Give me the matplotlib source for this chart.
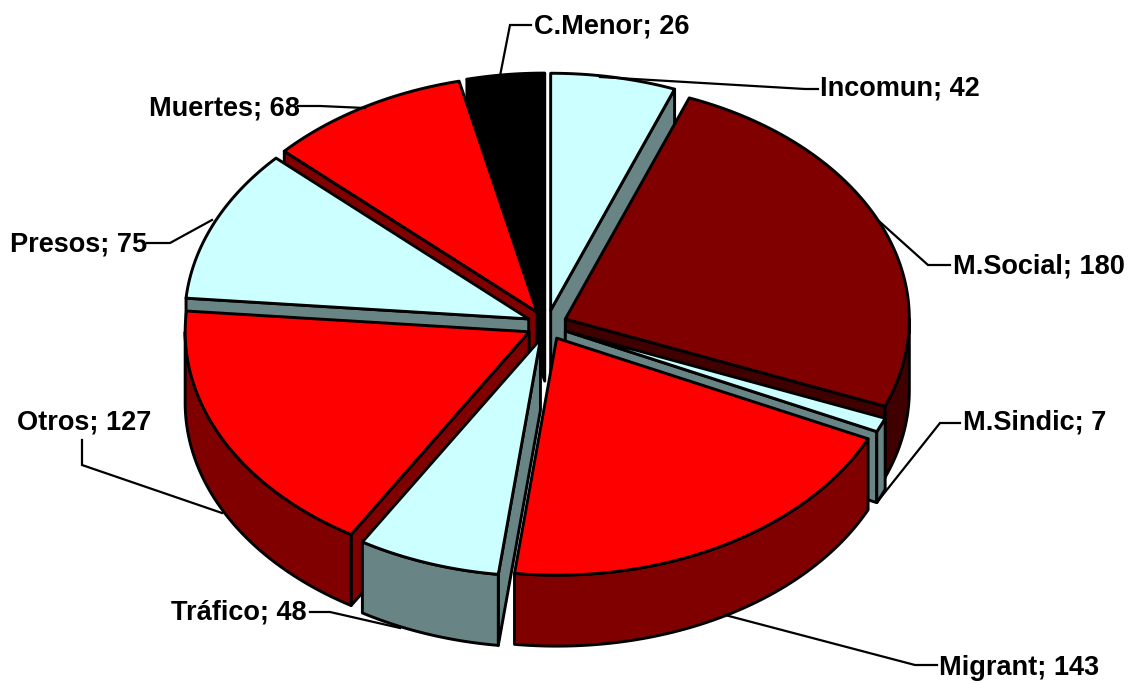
import numpy as np
import matplotlib
matplotlib.use("Agg")
import matplotlib.pyplot as plt
from matplotlib.patches import Polygon

categories = ["Incomun", "M.Social", "M.Sindic", "Migrant", "Tráfico", "Otros", "Presos", "Muertes", "C.Menor"]
values = [42, 180, 7, 143, 48, 127, 75, 68, 26]

top_colors = ["#CCFFFF", "#800000", "#CCFFFF", "#FF0000", "#CCFFFF", "#FF0000", "#CCFFFF", "#FF0000", "#000000"]
side_colors = ["#698484", "#400000", "#698484", "#800000", "#698484", "#800000", "#698484", "#800000", "#000000"]

# pie layout, pixels
CX, CY = 547, 325
RX, RY = 344, 237
EX, EY = 20, 15
DEPTH = 71
LW = 2.1

label_pos = [(820, 89), (953, 266), (963, 423), (939, 668), (171, 612), (17, 423), (10, 245), (149, 109), (534, 26)]
leaders = [
    [(818, 89), (805, 89), (600, 77)],
    [(950, 265), (928, 265), (880, 222)],
    [(960, 423), (940, 423), (878, 501)],
    [(937, 665), (915, 665), (725, 615)],
    [(310, 612), (330, 612), (400, 628)],
    [(82, 440), (82, 465), (222, 513)],
    [(147, 243), (170, 243), (212, 220)],
    [(298, 106), (320, 106), (365, 108)],
    [(531, 25), (510, 25), (500, 76)],
]

fig = plt.figure(figsize=(11.35, 6.84), dpi=100)
ax = fig.add_axes([0, 0, 1, 1])
ax.set_xlim(0, 1135)
ax.set_ylim(684, 0)
ax.axis("off")

def pt(a, ox, oy):
    t = np.radians(a)
    return np.column_stack([ox + RX * np.sin(t), oy - RY * np.cos(t)])

fr = np.array(values, dtype=float) / sum(values) * 360
starts = np.concatenate([[0], np.cumsum(fr)[:-1]])
ends = np.cumsum(fr)
mids = (starts + ends) / 2
order = np.argsort(-np.cos(np.radians(mids)))

def poly(xy, color, z):
    ax.add_patch(Polygon(xy, closed=True, facecolor=color, edgecolor="black",
                         linewidth=LW, joinstyle="round", zorder=z))

for n, i in enumerate(order):
    s, e, m = starts[i], ends[i], mids[i]
    t = np.radians(m)
    ox, oy = CX + EX * np.sin(t), CY - EY * np.cos(t)
    z = 2 + n
    apex = np.array([[ox, oy]])
    down = np.array([0, DEPTH])
    # radial cut walls: only those facing the viewer
    visible = []
    if s > 180:
        visible.append(s)
    if e < 180:
        visible.append(e)
    for a in visible:
        p = pt(np.array([a]), ox, oy)
        poly(np.vstack([apex, p, p + down, apex + down]), side_colors[i], z)
    # outer wall (front half only)
    lo, hi = max(s, 90), min(e, 270)
    if hi > lo:
        arc = pt(np.linspace(lo, hi, 60), ox, oy)
        poly(np.vstack([arc, (arc + down)[::-1]]), side_colors[i], z)
    # top face
    arc = pt(np.linspace(s, e, 120), ox, oy)
    poly(np.vstack([apex, arc]), top_colors[i], z)

for cat, v, lp, ld in zip(categories, values, label_pos, leaders):
    xs, ys = zip(*ld)
    ax.plot(xs, ys, color="black", lw=1.6, zorder=30, solid_joinstyle="miter")
    ax.text(lp[0], lp[1], f"{cat}; {v}", ha="left", va="center", fontsize=19.5,
            fontweight="bold", family="Liberation Sans", color="black", zorder=40)

fig.savefig("out.png", dpi=100, facecolor="white")
